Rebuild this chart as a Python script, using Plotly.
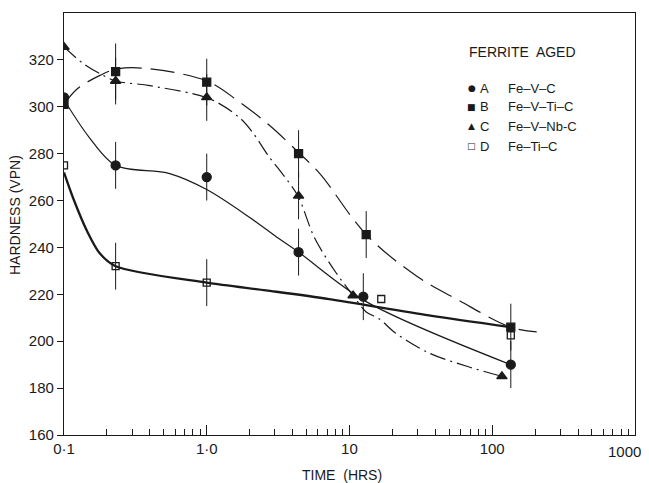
import plotly.graph_objects as go

# ---------------- data ----------------
# measured points
a_x = [0.1, 0.23, 1.0, 4.4, 12.5, 135]
a_y = [304, 275, 270, 238, 219, 190]
a_err = [0, 10, 10, 10, 10, 10]

b_x = [0.1, 0.23, 1.0, 4.4, 13.1, 135]
b_y = [301, 315, 310.5, 280, 245.5, 206]
b_err = [0, 12, 10, 10, 10, 10]

c_x = [0.1, 0.23, 1.0, 4.4, 10.6, 117]
c_y = [325.5, 311, 304, 262, 219.5, 185]
c_err = [0, 10, 10, 10, 0, 0]

d_x = [0.1, 0.23, 1.0, 16.7, 135]
d_y = [275, 232, 225, 218, 202.5]
d_err = [0, 10, 10, 0, 0]

# hand-drawn fitted curves
a_cx = [0.1, 0.15, 0.23, 0.55, 1.0, 2.0, 3.2, 4.4, 13, 135]
a_cy = [303, 287, 275, 271.5, 264.7, 252.8, 243.8, 238, 217, 190]

b_cx = [0.1, 0.123, 0.18, 0.23, 0.35, 1.0, 1.7, 2.76, 4.4, 6.2, 13.1, 30, 58, 135, 205]
b_cy = [301, 307.5, 313.5, 316, 316.5, 311, 302, 292, 280.5, 271.5, 245.5, 227.5, 217.5, 206, 204]

c_cx = [0.1, 0.136, 0.18, 0.23, 0.4, 1.05, 1.7, 2.1, 2.76, 3.33, 4.35, 5.7, 8.1, 10.6, 13.1, 16.2, 21, 36, 69, 117]
c_cy = [325.5, 318.5, 314, 311, 309, 303.4, 295.3, 289, 278.3, 272, 262, 244, 229, 219.5, 212.5, 209.5, 203.5, 195, 189, 185]

d_cx = [0.1, 0.116, 0.145, 0.178, 0.23, 1.0, 2.6, 7.2, 36, 135]
d_cy = [272, 261, 247, 237.5, 232, 225, 221.7, 218, 211, 206]

x_tickvals = [0.1, 1, 10, 100, 1000]
x_ticktext = ["0·1", "1·0", "10", "100", ""]
x_last_label = "1000"
x_minor = [m * d for d in [0.1, 1, 10, 100] for m in range(2, 10)]
y_tickvals = [160, 180, 200, 220, 240, 260, 280, 300, 320]

legend_title = "FERRITE  AGED"
legend_symbols = ["●", "■", "▲", "□"]
legend_letters = ["A", "B", "C", "D"]
legend_names = ["Fe–V–C", "Fe–V–Ti–C", "Fe–V–Nb-C", "Fe–Ti–C"]

# ---------------- figure ----------------
FONT = "Liberation Sans"
INK = "#1a1a1a"

fig = go.Figure()

# curves
fig.add_trace(go.Scatter(x=a_cx, y=a_cy, mode="lines", line=dict(color=INK, width=1.2, shape="spline", smoothing=0.9), hoverinfo="skip", showlegend=False))
fig.add_trace(go.Scatter(x=b_cx, y=b_cy, mode="lines", line=dict(color=INK, width=1.2, dash="24px,9px", shape="spline", smoothing=1.0), hoverinfo="skip", showlegend=False))
fig.add_trace(go.Scatter(x=c_cx, y=c_cy, mode="lines", line=dict(color=INK, width=1.2, dash="16px,5px,2px,5px", shape="spline", smoothing=0.9), hoverinfo="skip", showlegend=False))
fig.add_trace(go.Scatter(x=d_cx, y=d_cy, mode="lines", line=dict(color=INK, width=2.3, shape="spline", smoothing=0.8), hoverinfo="skip", showlegend=False))

def pts(x, y, err, symbol, size, fill):
    return go.Scatter(
        x=x, y=y, mode="markers",
        marker=dict(symbol=symbol, size=size, color=fill, line=dict(color=INK, width=1.3)),
        error_y=dict(type="data", array=err, visible=True, color=INK, thickness=1, width=0),
        showlegend=False,
    )

fig.add_trace(pts(a_x, a_y, a_err, "circle", 9, INK))
fig.add_trace(pts(b_x, b_y, b_err, "square", 8, INK))
fig.add_trace(pts(c_x, c_y, c_err, "triangle-up", 9, INK))
fig.add_trace(pts(d_x, d_y, d_err, "square-open", 7, INK))

fig.update_xaxes(
    type="log", range=[-1, 3.0005],
    tickvals=x_tickvals, ticktext=x_ticktext,
    ticks="inside", ticklen=10, tickwidth=1.3, tickcolor=INK,
    minor=dict(tickvals=x_minor, ticks="inside", ticklen=6, tickwidth=1.2, tickcolor=INK),
    showline=True, linecolor=INK, linewidth=1.3, mirror=True,
    showgrid=False, zeroline=False, automargin=False,
    tickfont=dict(family=FONT, size=15, color=INK),
)
fig.update_yaxes(
    range=[160, 340],
    tickvals=y_tickvals,
    ticks="outside", ticklen=6, tickwidth=1.3, tickcolor=INK,
    showline=True, linecolor=INK, linewidth=1.3, mirror=True,
    showgrid=False, zeroline=False, automargin=False,
    tickfont=dict(family=FONT, size=15, color=INK),
)

# the page body has an 8px margin; size the figure so the plot lands where the reference has it
OFF = 8
W, H = 649 - OFF, 483 - OFF
L, R, T, B = 64 - OFF, W - (635 - OFF), 13 - OFF, H - (435 - OFF)
pw, ph = W - L - R, H - T - B

def px(sx):
    return (sx - OFF - L) / pw

def py(sy):
    return (H - B - (sy - OFF)) / ph

def note(text, sx, sy, size, xanchor="center", family=FONT, angle=0):
    return dict(text=text, x=px(sx), y=py(sy), xanchor=xanchor, yanchor="middle",
                textangle=angle, showarrow=False, xref="paper", yref="paper",
                font=dict(family=family, size=size, color=INK))

ann = [
    note(x_last_label, 624, 451, 15),
    note("HARDNESS (VPN)", 15, 215, 14, angle=-90),
    note("TIME  (HRS)", 342, 475, 14),
    note(legend_title, 467, 52, 14, xanchor="left"),
]
rows = [88, 107, 126, 146]
for sym, let, name, yr in zip(legend_symbols, legend_letters, legend_names, rows):
    ann.append(note(sym, 472, yr, 9, family="DejaVu Sans"))
    ann.append(note(let, 478, yr, 13, xanchor="left"))
    ann.append(note(name, 506, yr, 13, xanchor="left"))

fig.update_layout(
    width=W, height=H, autosize=False,
    margin=dict(l=L, r=R, t=T, b=B, pad=0, autoexpand=False),
    paper_bgcolor="white", plot_bgcolor="white",
    annotations=ann,
    showlegend=False,
)

fig.write_html("out.html")
